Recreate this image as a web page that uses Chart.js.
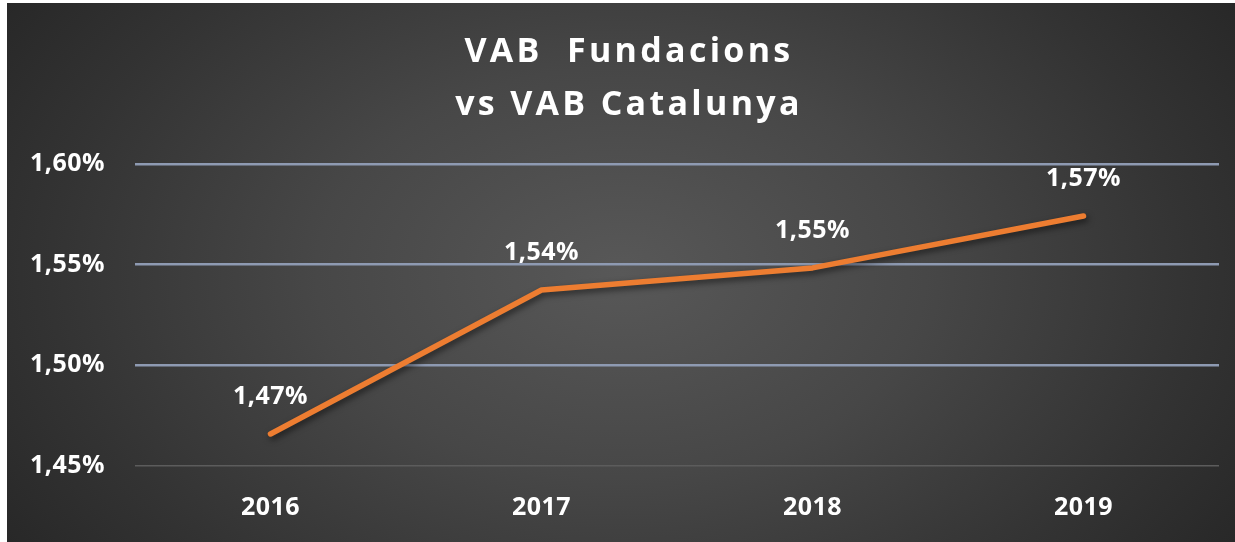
<!DOCTYPE html>
<html>
<head>
<meta charset="utf-8">
<script src="https://cdn.jsdelivr.net/npm/chart.js@4/dist/chart.umd.min.js"></script>
<style>
  html, body { margin: 0; padding: 0; background: #ffffff; }
  #wrap {
    position: absolute; left: 7px; top: 3px; width: 1228px; height: 539px;
    background: radial-gradient(ellipse 62% 95% at 50% 50%, #585858 0%, #474747 40%, #333333 75%, #262626 100%);
  }
  canvas { display: block; }
</style>
</head>
<body>
<div id="wrap"><canvas id="c" width="1228" height="539"></canvas></div>
<script>
const titleLines = ["VAB  Fundacions", "vs VAB Catalunya"];
const categories = ["2016", "2017", "2018", "2019"];
const values = [1.4659, 1.5374, 1.5484, 1.5742];
const dataLabels = ["1,47%", "1,54%", "1,55%", "1,57%"];
const yMin = 1.45, yMax = 1.60, yStep = 0.05;

const FONT = "'Open Sans', Lato, sans-serif";
function fmtPct(v) { return v.toFixed(2).replace('.', ',') + '%'; }

const spacingPlugin = {
  id: 'textSpacing',
  beforeDraw(chart) {
    if ('letterSpacing' in chart.ctx) chart.ctx.letterSpacing = '0.5px';
  },
  afterDraw(chart) {
    if ('letterSpacing' in chart.ctx) chart.ctx.letterSpacing = '0px';
  }
};

const titlePlugin = {
  id: 'customTitle',
  afterDraw(chart) {
    const ctx = chart.ctx;
    ctx.save();
    ctx.fillStyle = '#ffffff';
    ctx.font = "bold 34px " + FONT;
    ctx.textAlign = 'center';
    ctx.textBaseline = 'middle';
    if ('letterSpacing' in ctx) ctx.letterSpacing = '3.3px';
    const cx = 622;
    ctx.fillText(titleLines[0], cx, 49);
    ctx.fillText(titleLines[1], cx, 102);
    ctx.restore();
  }
};

const labelPlugin = {
  id: 'pointLabels',
  afterDatasetsDraw(chart) {
    const ctx = chart.ctx;
    const meta = chart.getDatasetMeta(0);
    ctx.save();
    ctx.fillStyle = '#ffffff';
    ctx.font = "bold 25px " + FONT;
    ctx.textAlign = 'center';
    ctx.textBaseline = 'middle';
    if ('letterSpacing' in ctx) ctx.letterSpacing = '0.5px';
    meta.data.forEach((pt, i) => {
      ctx.fillText(dataLabels[i], pt.x, pt.y - 37);
    });
    ctx.restore();
  }
};

const shadowPlugin = {
  id: 'lineShadow',
  beforeDatasetsDraw(chart) {
    const ctx = chart.ctx;
    ctx.save();
    ctx.shadowColor = 'rgba(0,0,0,0.55)';
    ctx.shadowBlur = 6;
    ctx.shadowOffsetX = 2;
    ctx.shadowOffsetY = 3;
  },
  afterDatasetsDraw(chart) {
    chart.ctx.restore();
  }
};

new Chart(document.getElementById('c'), {
  type: 'line',
  data: {
    labels: categories,
    datasets: [{
      data: values,
      borderColor: '#ED7D31',
      borderWidth: 5.5,
      borderCapStyle: 'round',
      borderJoinStyle: 'round',
      pointRadius: 0,
      tension: 0,
      fill: false
    }]
  },
  options: {
    responsive: false,
    animation: false,
    devicePixelRatio: 1,
    layout: { padding: { top: 161, right: 16, left: 0, bottom: 0 } },
    plugins: {
      legend: { display: false },
      title: { display: false },
      tooltip: { enabled: false }
    },
    scales: {
      x: {
        offset: true,
        grid: { display: false, drawTicks: false },
        border: { display: false },
        ticks: { color: '#ffffff', font: { family: FONT, size: 25, weight: 'bold' }, padding: 27 },
        afterFit(scale) { scale.height = 76; }
      },
      y: {
        min: yMin, max: yMax,
        grid: {
          drawTicks: false,
          lineWidth: (c) => (c.tick && Math.abs(c.tick.value - yMin) < 1e-9) ? 1.5 : 2.5,
          color: (c) => (c.tick && Math.abs(c.tick.value - yMin) < 1e-9) ? '#5c5c5c' : '#8e9ab2'
        },
        border: { display: false },
        ticks: {
          stepSize: yStep,
          color: '#ffffff',
          font: { family: FONT, size: 25, weight: 'bold' },
          padding: 30,
          callback: (v) => fmtPct(v)
        },
        afterFit(scale) { scale.width = 128; }
      }
    }
  },
  plugins: [spacingPlugin, shadowPlugin, labelPlugin, titlePlugin]
});
</script>
</body>
</html>
